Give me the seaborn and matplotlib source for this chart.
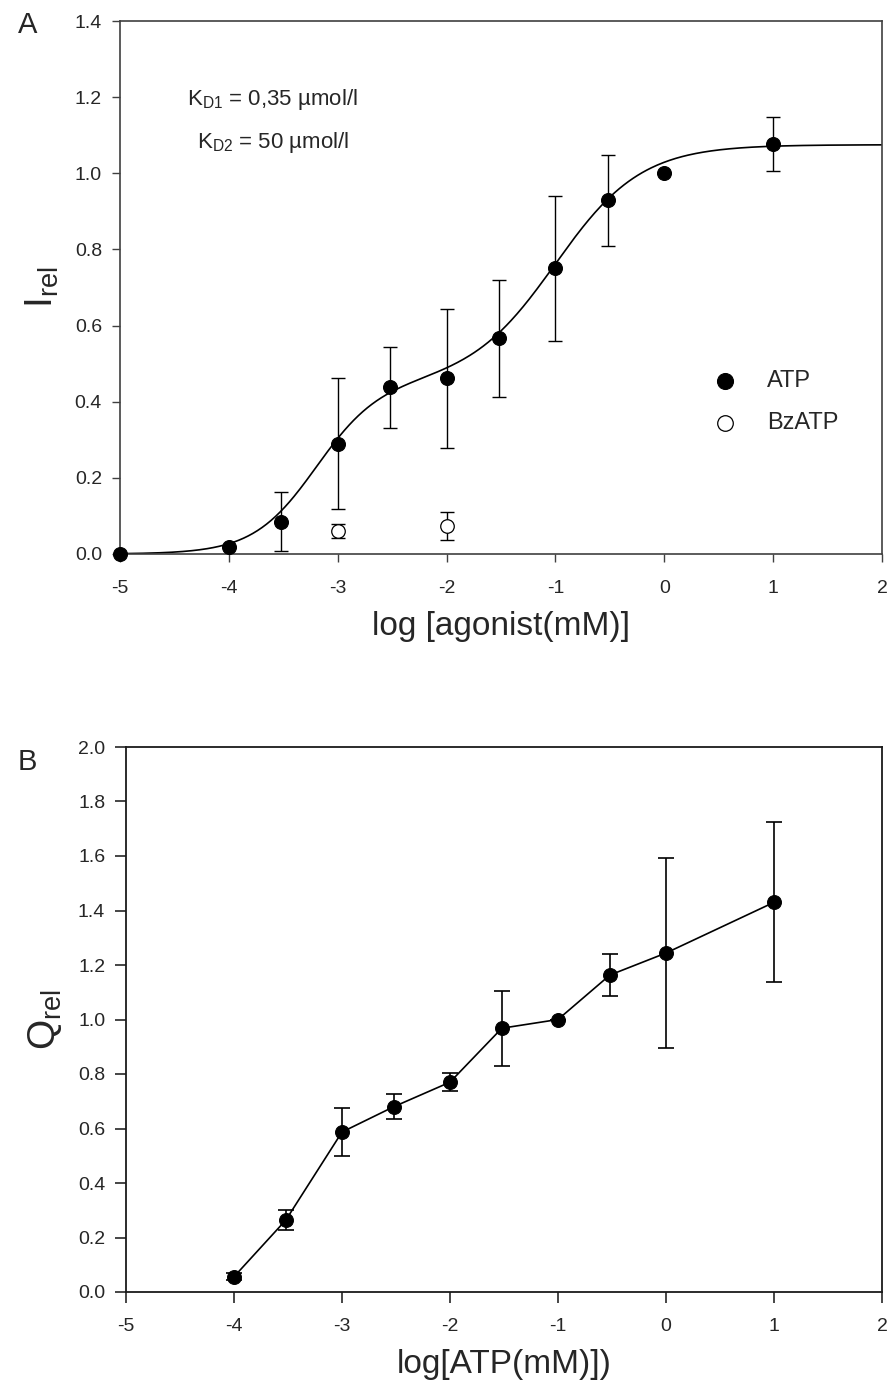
import numpy as np
import pandas as pd
import matplotlib
matplotlib.use("Agg")
import matplotlib.pyplot as plt
import seaborn as sns

sns.set_style("ticks")
plt.rcParams["font.family"] = ["Liberation Sans", "DejaVu Sans"]
plt.rcParams["mathtext.fontset"] = "custom"
plt.rcParams["mathtext.rm"] = "Liberation Sans"
plt.rcParams["mathtext.it"] = "Liberation Sans:italic"
plt.rcParams["mathtext.default"] = "regular"

# ---------------- data: panel A ----------------
atp_x = [-5, -4, -3.52, -3, -2.52, -2, -1.52, -1, -0.52, 0, 1]
atp_y = [0.0, 0.018, 0.085, 0.289, 0.438, 0.461, 0.567, 0.75, 0.929, 1.0, 1.078]
atp_err = [0, 0, 0.077, 0.172, 0.107, 0.183, 0.154, 0.19, 0.119, 0, 0.071]
bz_x = [-3, -2]
bz_y = [0.061, 0.074]
bz_err = [0.018, 0.037]

# two-site fit parameters for the drawn curve
fit_a1, fit_log1, fit_n1 = 0.45, -3.2, 1.5
fit_a2, fit_log2, fit_n2 = 0.625, -1.0, 1.1

kd_texts = [r"K$_{D1}$ = 0,35 µmol/l", r"K$_{D2}$ = 50 µmol/l"]

# ---------------- data: panel B ----------------
q_x = [-4, -3.52, -3, -2.52, -2, -1.52, -1, -0.52, 0, 1]
q_y = [0.056, 0.264, 0.587, 0.68, 0.77, 0.968, 1.0, 1.163, 1.244, 1.43]
q_err = [0.012, 0.037, 0.087, 0.045, 0.032, 0.137, 0, 0.077, 0.347, 0.294]

x_ticks = [-5, -4, -3, -2, -1, 0, 1, 2]
ya_ticks = [0.0, 0.2, 0.4, 0.6, 0.8, 1.0, 1.2, 1.4]
yb_ticks = [0.0, 0.2, 0.4, 0.6, 0.8, 1.0, 1.2, 1.4, 1.6, 1.8, 2.0]

W, H = 889, 1394
fig = plt.figure(figsize=(W / 100, H / 100), dpi=100)
axA = fig.add_axes([120 / W, 1 - 554 / H, 762 / W, 533 / H])
axB = fig.add_axes([126 / W, 1 - 1292 / H, 756 / W, 545 / H])

# ---------- Panel A ----------
xs = np.linspace(-5, 2, 500)
curve = (fit_a1 / (1 + 10 ** ((fit_log1 - xs) * fit_n1))
         + fit_a2 / (1 + 10 ** ((fit_log2 - xs) * fit_n2)))
sns.lineplot(x=xs, y=curve, ax=axA, color="black", lw=1.2, zorder=2)

axA.errorbar(atp_x, atp_y, yerr=atp_err, fmt="none", ecolor="black",
             elinewidth=1.0, capsize=4.8, capthick=1.0, zorder=2)
axA.errorbar(bz_x, bz_y, yerr=bz_err, fmt="none", ecolor="black",
             elinewidth=1.0, capsize=4.8, capthick=1.0, zorder=2)

dfa = pd.DataFrame({"x": atp_x, "y": atp_y})
dfb = pd.DataFrame({"x": bz_x, "y": bz_y})
sns.scatterplot(data=dfa, x="x", y="y", ax=axA, color="black", s=100,
                edgecolor="black", linewidth=0.8, label="ATP", zorder=4,
                clip_on=False)
sns.scatterplot(data=dfb, x="x", y="y", ax=axA, color="white", s=95,
                edgecolor="black", linewidth=0.9, label="BzATP", zorder=4,
                clip_on=False)

axA.set_xlim(-5, 2)
axA.set_ylim(0, 1.4)
axA.set_xticks(x_ticks)
axA.set_xticklabels([str(t) for t in x_ticks])
axA.set_yticks(ya_ticks)
axA.set_yticklabels([f"{t:.1f}" for t in ya_ticks])
axA.set_xlabel("log [agonist(mM)]", fontsize=24, labelpad=10)
axA.set_ylabel(r"I$_{rel}$", fontsize=28, labelpad=10)
axA.tick_params(axis="x", labelsize=14, length=6, width=1.0, pad=13, color="#404040")
axA.tick_params(axis="y", labelsize=14, length=6, width=1.0, pad=7, color="#404040")
for sp in axA.spines.values():
    sp.set_color("#404040")
    sp.set_linewidth(1.2)

axA.text(0.088, 0.842, kd_texts[0], transform=axA.transAxes, fontsize=16,
         va="baseline", ha="left")
axA.text(0.101, 0.762, kd_texts[1], transform=axA.transAxes, fontsize=16,
         va="baseline", ha="left")

leg = axA.legend(loc="upper left", bbox_to_anchor=(0.778, 0.345), frameon=False,
                 fontsize=17, handlelength=1.0, handletextpad=1.3,
                 labelspacing=0.85, borderpad=0, borderaxespad=0,
                 markerscale=1.15)

# ---------- Panel B ----------
axB.errorbar(q_x, q_y, yerr=q_err, fmt="none", ecolor="black",
             elinewidth=1.2, capsize=6, capthick=1.2, zorder=2)
dfq = pd.DataFrame({"x": q_x, "y": q_y})
sns.lineplot(data=dfq, x="x", y="y", ax=axB, color="black", lw=1.2,
             marker="o", markersize=10, markeredgecolor="black",
             markerfacecolor="black", zorder=3, clip_on=False)

axB.set_xlim(-5, 2)
axB.set_ylim(0, 2.0)
axB.set_xticks(x_ticks)
axB.set_xticklabels([str(t) for t in x_ticks])
axB.set_yticks(yb_ticks)
axB.set_yticklabels([f"{t:.1f}" for t in yb_ticks])
axB.set_xlabel("log[ATP(mM)])", fontsize=24, labelpad=10)
axB.set_ylabel(r"Q$_{rel}$", fontsize=28, labelpad=10)
axB.tick_params(axis="x", labelsize=14, length=8, width=1.2, pad=11)
axB.tick_params(axis="y", labelsize=14, length=8, width=1.2, pad=7)
for sp in axB.spines.values():
    sp.set_color("#1a1a1a")
    sp.set_linewidth(1.3)

fig.text(18 / W, 1 - 33 / H, "A", fontsize=21, ha="left", va="baseline")
fig.text(18 / W, 1 - 770 / H, "B", fontsize=21, ha="left", va="baseline")

fig.savefig("out.png", dpi=100)
